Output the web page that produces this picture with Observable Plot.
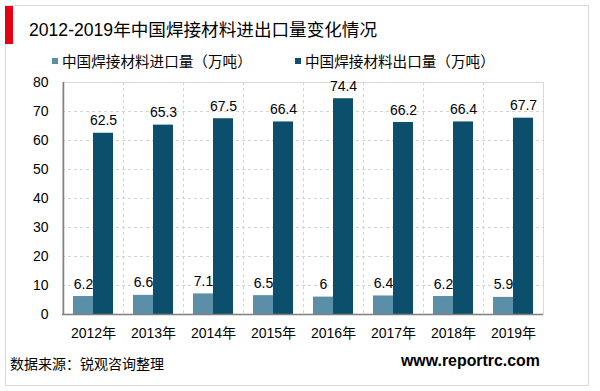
<!DOCTYPE html>
<html>
<head>
<meta charset="utf-8">
<script src="https://cdn.jsdelivr.net/npm/d3@7"></script>
<script src="https://cdn.jsdelivr.net/npm/@observablehq/plot@0.6"></script>
<style>
  html, body { margin: 0; padding: 0; background: #fff; }
  #wrap { position: relative; width: 600px; height: 391px; overflow: hidden;
    font-family: "Liberation Sans", Arial, "Noto Sans CJK SC", sans-serif; color: #000; }
  #frame { position: absolute; left: 5px; top: 5px; width: 582px; height: 379px; border: 1px solid #d9d9d9; }
  #redbar { position: absolute; left: 5px; top: 6px; width: 8px; height: 38px; background: #e60012; }
  #title { position: absolute; left: 29px; top: 16px; font-size: 17.6px; white-space: nowrap; }
  .leg { position: absolute; top: 50px; font-size: 14.6px; white-space: nowrap; display: flex; align-items: center; }
  .sw { display: inline-block; width: 6px; height: 6px; margin-right: 4px; }
  #src { position: absolute; left: 10px; top: 353px; font-size: 14px; white-space: nowrap; }
  #site { position: absolute; left: 401px; top: 352px; font-size: 15.9px; font-weight: bold; white-space: nowrap; }
  #chart { position: absolute; left: 0; top: 0; }
</style>
</head>
<body>
<div id="wrap">
  <div id="frame"></div>
  <div id="redbar"></div>
  <div id="chart"></div>
  <div id="title"></div>
  <div class="leg" id="leg1" style="left:52px"></div>
  <div class="leg" id="leg2" style="left:295px"></div>
  <div id="src"></div>
  <div id="site"></div>
</div>
<script>
const titleText = "2012-2019年中国焊接材料进出口量变化情况";
const years = ["2012年", "2013年", "2014年", "2015年", "2016年", "2017年", "2018年", "2019年"];
const importName = "中国焊接材料进口量（万吨）";
const exportName = "中国焊接材料出口量（万吨）";
const importValues = [6.2, 6.6, 7.1, 6.5, 6, 6.4, 6.2, 5.9];
const exportValues = [62.5, 65.3, 67.5, 66.4, 74.4, 66.2, 66.4, 67.7];
const yTicks = [0, 10, 20, 30, 40, 50, 60, 70, 80];
const sourceText = "数据来源：锐观咨询整理";
const siteText = "www.reportrc.com";

const importColor = "#5b8fa8";
const exportColor = "#0b4f6c";

const imp = years.map((y, i) => ({year: y, value: importValues[i]}));
const exp = years.map((y, i) => ({year: y, value: exportValues[i]}));

const chart = Plot.plot({
  width: 600,
  height: 391,
  marginLeft: 62,
  marginRight: 57,
  marginTop: 82,
  marginBottom: 77,
  style: {fontFamily: '"Liberation Sans", Arial, "Noto Sans CJK SC", sans-serif', fontSize: "14px", color: "#000", background: "transparent"},
  x: {domain: years, padding: 0, label: null},
  y: {domain: [0, 80], label: null},
  marks: [
    Plot.frame({stroke: "#d9d9d9"}),
    Plot.ruleY(yTicks.filter(d => d > 0 && d < 80), {stroke: "#d4d4d4", strokeDasharray: "3,3"}),
    Plot.ruleX(years.slice(0, -1), {dx: 30, stroke: "#d4d4d4", strokeDasharray: "3,3"}),
    Plot.barY(imp, {x: "year", y: "value", fill: importColor, insetLeft: 10, insetRight: 30}),
    Plot.barY(exp, {x: "year", y: "value", fill: exportColor, insetLeft: 30, insetRight: 10}),
    Plot.text(imp, {x: "year", y: "value", text: d => String(d.value), dx: -10, dy: -8, lineAnchor: "bottom", fill: "#000", fontSize: 14}),
    Plot.text(exp, {x: "year", y: "value", text: d => String(d.value), dx: 10, dy: -8, lineAnchor: "bottom", fill: "#000", fontSize: 14}),
    Plot.ruleY([0], {stroke: "#7f7f7f", strokeWidth: 1.5}),
    Plot.ruleX([years[0]], {dx: -30, stroke: "#7f7f7f", strokeWidth: 1.5}),
    Plot.axisY({ticks: yTicks, tickSize: 0, tickPadding: 14, label: null, fontSize: 14}),
    Plot.axisX({tickSize: 0, tickPadding: 14, label: null, fontSize: 14})
  ]
});
document.getElementById("chart").appendChild(chart);

document.getElementById("title").textContent = titleText;
document.getElementById("leg1").innerHTML = `<span class="sw" style="background:${importColor}"></span>`;
document.getElementById("leg1").append(importName);
document.getElementById("leg2").innerHTML = `<span class="sw" style="background:${exportColor}"></span>`;
document.getElementById("leg2").append(exportName);
document.getElementById("src").textContent = sourceText;
document.getElementById("site").textContent = siteText;
</script>
</body>
</html>
